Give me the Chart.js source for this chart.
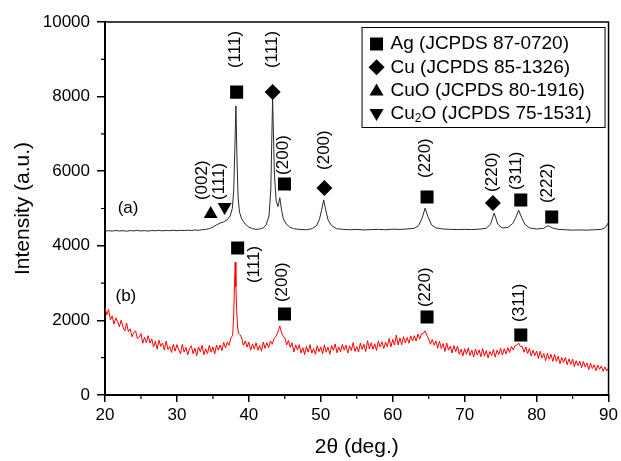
<!DOCTYPE html>
<html>
<head>
<meta charset="utf-8">
<script src="https://cdn.jsdelivr.net/npm/chart.js@4.4.0/dist/chart.umd.min.js"></script>
<style>
  html, body { margin: 0; padding: 0; background: #fff; }
</style>
</head>
<body>
<canvas id="xrd" width="621" height="461"></canvas>
<script>
// pattern (a): 2theta, intensity
const curveA = [
  [20,4390],[20.5,4405],[21,4395],[21.5,4410],[22,4398],[22.5,4405],[23,4392],[23.5,4408],
  [24,4400],[24.5,4412],[25,4398],[25.5,4406],[26,4395],[26.5,4410],[27,4402],[27.5,4415],
  [28,4400],[28.5,4412],[29,4405],[29.5,4418],[30,4404],[30.5,4415],[31,4408],[31.5,4420],
  [32,4410],[32.5,4425],[33,4415],[33.5,4430],[34,4440],[34.5,4460],[35,4500],[35.5,4560],
  [36,4610],[36.5,4640],[37,4700],[37.4,4800],[37.7,5000],[37.9,5500],[38.05,6600],[38.2,7750],
  [38.35,6300],[38.5,5300],[38.7,4900],[39,4720],[39.5,4580],[40,4500],[40.5,4460],[41,4440],
  [41.5,4450],[42,4480],[42.4,4560],[42.8,4800],[43.05,5500],[43.3,7950],[43.55,5900],[43.8,5200],
  [44.05,5050],[44.3,5290],[44.55,4950],[44.8,4720],[45.2,4580],[45.7,4500],[46.2,4460],[47,4440],
  [48,4430],[48.8,4460],[49.4,4540],[49.8,4700],[50.1,4950],[50.4,5230],[50.7,4950],[51,4700],
  [51.5,4540],[52.2,4460],[53,4440],[54,4430],[55,4440],[56,4425],[57,4435],[58,4440],
  [59,4430],[60,4445],[61,4440],[62,4450],[63,4470],[63.6,4540],[64.1,4750],[64.5,5010],
  [64.9,4780],[65.4,4560],[66,4480],[67,4450],[68,4440],[69,4435],[70,4440],[71,4435],
  [72,4445],[73,4470],[73.6,4580],[74.1,4880],[74.6,4580],[75.2,4480],[76,4490],[76.7,4600],
  [77.2,4800],[77.5,4960],[77.9,4760],[78.4,4570],[79,4480],[80,4450],[81,4470],[81.6,4540],
  [82.2,4480],[83,4440],[84,4430],[85,4420],[86,4425],[87,4420],[88,4430],[89,4440],
  [89.5,4480],[90,4620]
];

// pattern (b)
const curveB = [
  [20,2340],[20.25,2147],[20.5,2295],[20.75,2012],[21,2120],[21.25,1900],[21.5,2070],[21.75,1970],
  [22,1830],[22.25,2005],[22.5,1820],[22.75,1715],[23,1930],[23.25,1697],[23.5,1775],[23.75,1562],
  [24,1670],[24.25,1722],[24.5,1515],[24.75,1547],[25,1650],[25.25,1387],[25.5,1545],[25.75,1402],
  [26,1590],[26.25,1392],[26.5,1505],[26.75,1287],[27,1440],[27.25,1225],[27.5,1470],[27.75,1305],
  [28,1390],[28.25,1207],[28.5,1445],[28.75,1222],[29,1300],[29.25,1142],[29.5,1355],[29.75,1177],
  [30,1350],[30.25,1212],[30.5,1105],[30.75,1357],[31,1150],[31.25,1277],[31.5,1075],[31.75,1242],
  [32,1320],[32.25,1107],[32.5,1255],[32.75,1052],[33,1290],[33.25,1160],[33.5,1330],[33.75,1080],
  [34,1240],[34.25,1105],[34.5,1330],[34.75,1145],[35,1290],[35.25,1100],[35.5,1340],[35.75,1200],
  [36,1340],[36.25,1190],[36.5,1410],[36.75,1260],[37,1420],[37.25,1330],[37.5,1530],[37.75,1600],
  [37.9,2200],[38,2950],[38.1,3560],[38.2,2900],[38.3,2250],[38.45,1800],[38.6,1650],[38.75,1620],
  [39,1530],[39.25,1330],[39.5,1450],[39.75,1285],[40,1420],[40.25,1200],[40.5,1370],[40.75,1230],
  [41,1400],[41.25,1200],[41.5,1323],[41.75,1175],[42,1420],[42.25,1250],[42.5,1405],[42.75,1270],
  [43,1450],[43.25,1360],[43.5,1520],[43.75,1560],[44,1680],[44.15,1760],[44.3,1850],[44.45,1720],
  [44.6,1640],[44.8,1560],[45,1540],[45.25,1340],[45.5,1460],[45.75,1280],[46,1400],[46.25,1150],
  [46.5,1345],[46.75,1205],[47,1350],[47.25,1125],[47.5,1270],[47.75,1085],[48,1300],[48.25,1150],
  [48.5,1350],[48.75,1120],[49,1240],[49.25,1090],[49.5,1320],[49.75,1160],[50,1290],[50.25,1102],
  [50.5,1345],[50.75,1147],[51,1280],[51.25,1092],[51.5,1325],[51.75,1197],[52,1370],[52.25,1132],
  [52.5,1285],[52.75,1157],[53,1360],[53.25,1202],[53.5,1335],[53.75,1127],[54,1320],[54.25,1192],
  [54.5,1405],[54.75,1167],[55,1300],[55.25,1155],[55.5,1390],[55.75,1225],[56,1360],[56.25,1165],
  [56.5,1460],[56.75,1235],[57,1400],[57.25,1225],[57.5,1370],[57.75,1195],[58,1450],[58.25,1287],
  [58.5,1425],[58.75,1242],[59,1420],[59.25,1297],[59.5,1515],[59.75,1292],[60,1490],[60.25,1337],
  [60.5,1605],[60.75,1342],[61,1530],[61.25,1347],[61.5,1565],[61.75,1392],[62,1540],[62.25,1387],
  [62.5,1585],[62.75,1447],[63,1590],[63.25,1445],[63.5,1630],[63.75,1500],[64,1640],[64.25,1660],
  [64.5,1720],[64.75,1600],[65,1500],[65.25,1360],[65.5,1490],[65.75,1335],[66,1450],[66.25,1255],
  [66.5,1440],[66.75,1245],[67,1380],[67.25,1167],[67.5,1395],[67.75,1202],[68,1310],[68.25,1127],
  [68.5,1325],[68.75,1162],[69,1310],[69.25,1090],[69.5,1230],[69.75,1050],[70,1240],[70.25,1092],
  [70.5,1265],[70.75,1057],[71,1200],[71.25,1017],[71.5,1235],[71.75,1072],[72,1210],[72.25,1027],
  [72.5,1245],[72.75,1042],[73,1190],[73.25,992],[73.5,1165],[73.75,1057],[74,1220],[74.25,1015],
  [74.5,1200],[74.75,1085],[75,1250],[75.25,1070],[75.5,1240],[75.75,1100],[76,1270],[76.25,1140],
  [76.5,1300],[76.75,1205],[77,1320],[77.25,1340],[77.5,1390],[77.75,1300],[78,1300],[78.25,1147],
  [78.5,1285],[78.75,1112],[79,1250],[79.25,1045],[79.5,1200],[79.75,1055],[80,1180],[80.25,977],
  [80.5,1175],[80.75,992],[81,1110],[81.25,920],[81.5,1120],[81.75,960],[82,1090],[82.25,900],
  [82.5,1090],[82.75,900],[83,1040],[83.25,837],[83.5,1005],[83.75,872],[84,1010],[84.25,810],
  [84.5,970],[84.75,820],[85,960],[85.25,760],[85.5,920],[85.75,790],[86,910],[86.25,730],
  [86.5,900],[86.75,750],[87,860],[87.25,680],[87.5,850],[87.75,710],[88,810],[88.25,652],
  [88.5,805],[88.75,687],[89,780],[89.25,632],[89.5,755],[89.75,647],[90,720]
];

// phase markers (2theta, marker height) and their hkl
const agMarksA = [[38.3,8120],[44.95,5660],[64.77,5310],[77.8,5230],[82.1,4770]];
const agHklA = ['(111)','(200)','(220)','(311)','(222)'];
const cuMarksA = [[43.3,8120],[50.5,5550],[73.92,5150]];
const cuHklA = ['(111)','(200)','(220)'];
const cuoMarksA = [[34.69,4850]];
const cuoHklA = ['(002)'];
const cu2oMarksA = [[36.63,5040]];
const cu2oHklA = ['(111)'];
const agMarksB = [[38.44,3940],[44.95,2170],[64.77,2090],[77.8,1610]];
const agHklB = ['(111)','(200)','(220)','(311)'];

const legendItems = ['Ag (JCPDS 87-0720)', 'Cu (JCPDS 85-1326)', 'CuO (JCPDS 80-1916)', 'Cu2O (JCPDS 75-1531)'];

const FONT = 'Liberation Sans, Arial, Helvetica, sans-serif';

// pixel offsets of hkl text (centre x, bottom of rotated text) from its marker
const hklOffsets = {
  agA: [[-1,-24],[-1,-9],[-2,-19],[-4,-10],[-4,-14]],
  cuA: [[0,-24],[0,-18],[-1,-11]],
  cuoA: [[-8,-14]],
  cu2oA: [[-5,-7]],
  agB: [[17,35],[-2,-12],[-2,-10],[-1,-13]]
};

function marks(pts, style, radius, rotation) {
  return {
    type: 'scatter', data: pts, order: 0,
    pointStyle: style, pointRadius: radius, pointRotation: rotation || 0,
    pointBackgroundColor: '#000', pointBorderColor: '#000', pointBorderWidth: 0,
    pointHoverRadius: radius, showLine: false
  };
}

const decor = {
  id: 'decor',
  afterDatasetsDraw(chart) {
    const ctx = chart.ctx, xs = chart.scales.x, ys = chart.scales.y, a = chart.chartArea;
    ctx.save();
    // frame top / right
    ctx.strokeStyle = '#000';
    ctx.lineWidth = 1.5;
    ctx.beginPath();
    ctx.moveTo(a.left, a.top); ctx.lineTo(a.right, a.top); ctx.lineTo(a.right, a.bottom);
    ctx.stroke();
    // minor ticks
    ctx.lineWidth = 1.2;
    ctx.beginPath();
    for (let v = 25; v < 90; v += 10) {
      const px = xs.getPixelForValue(v);
      ctx.moveTo(px, a.bottom); ctx.lineTo(px, a.bottom + 4);
    }
    for (let v = 1000; v < 10000; v += 2000) {
      const py = ys.getPixelForValue(v);
      ctx.moveTo(a.left, py); ctx.lineTo(a.left - 4, py);
    }
    ctx.stroke();

    // hkl labels
    ctx.fillStyle = '#000';
    ctx.font = '17px ' + FONT;
    ctx.textAlign = 'left';
    ctx.textBaseline = 'middle';
    const groups = [
      [agMarksA, agHklA, hklOffsets.agA], [cuMarksA, cuHklA, hklOffsets.cuA],
      [cuoMarksA, cuoHklA, hklOffsets.cuoA], [cu2oMarksA, cu2oHklA, hklOffsets.cu2oA],
      [agMarksB, agHklB, hklOffsets.agB]
    ];
    groups.forEach(([pts, hkl, offs]) => {
      pts.forEach((p, i) => {
        const px = xs.getPixelForValue(p[0]) + offs[i][0];
        const py = ys.getPixelForValue(p[1]) + offs[i][1];
        ctx.save();
        ctx.translate(px, py);
        ctx.rotate(-Math.PI / 2);
        ctx.fillText(hkl[i], 0, 0);
        ctx.restore();
      });
    });

    // curve tags
    ctx.textAlign = 'center';
    ctx.fillText('(a)', xs.getPixelForValue(23.2), ys.getPixelForValue(5000));
    ctx.fillText('(b)', xs.getPixelForValue(22.9), ys.getPixelForValue(2650));

    // legend box
    const bx = a.right - 247, by = a.top + 5, bw = 243, bh = 100;
    ctx.lineWidth = 1;
    ctx.strokeRect(bx + 0.5, by + 0.5, bw, bh);
    const mx = bx + 15, tx = bx + 29;
    ctx.textAlign = 'left';
    ctx.font = '19px ' + FONT;
    legendItems.forEach((txt, i) => {
      const cy = by + 17 + i * 23.3;
      ctx.beginPath();
      if (i === 0) {
        ctx.rect(mx - 6.5, cy - 6.5, 13, 13);
      } else if (i === 1) {
        ctx.moveTo(mx, cy - 8); ctx.lineTo(mx + 8, cy); ctx.lineTo(mx, cy + 8); ctx.lineTo(mx - 8, cy);
      } else if (i === 2) {
        ctx.moveTo(mx, cy - 7); ctx.lineTo(mx + 7, cy + 5); ctx.lineTo(mx - 7, cy + 5);
      } else {
        ctx.moveTo(mx, cy + 7); ctx.lineTo(mx + 7, cy - 5); ctx.lineTo(mx - 7, cy - 5);
      }
      ctx.closePath();
      ctx.fill();
      if (txt.startsWith('Cu2O')) {
        let x = tx;
        ctx.fillText('Cu', x, cy); x += ctx.measureText('Cu').width;
        ctx.font = '12px ' + FONT;
        ctx.fillText('2', x, cy + 5); x += ctx.measureText('2').width;
        ctx.font = '19px ' + FONT;
        ctx.fillText(txt.slice(3), x, cy);
      } else {
        ctx.fillText(txt, tx, cy);
      }
    });
    ctx.restore();
  }
};

new Chart(document.getElementById('xrd'), {
  data: {
    datasets: [
      marks(agMarksA, 'rect', 9.2),
      marks(cuMarksA, 'rectRot', 8),
      marks(cuoMarksA, 'triangle', 8),
      marks(cu2oMarksA, 'triangle', 8, 180),
      marks(agMarksB, 'rect', 9.2),
      { type: 'line', data: curveA, order: 1, borderColor: '#2a2a2a', borderWidth: 1, pointRadius: 0, tension: 0 },
      { type: 'line', data: curveB, order: 1, borderColor: '#ff0000', borderWidth: 1, pointRadius: 0, tension: 0 }
    ]
  },
  options: {
    responsive: false,
    animation: false,
    layout: { padding: { left: 0, right: 11, top: 22, bottom: 0 } },
    plugins: { legend: { display: false }, tooltip: { enabled: false } },
    scales: {
      x: {
        type: 'linear', min: 20, max: 90,
        ticks: { stepSize: 10, color: '#000', font: { family: FONT, size: 17 }, padding: 3, maxRotation: 0,
                 callback: v => String(v) },
        grid: { drawOnChartArea: false, tickLength: 7, color: '#000', lineWidth: 1.5 },
        border: { color: '#000', width: 2 },
        title: { display: true, text: '2θ (deg.)', color: '#000', font: { family: FONT, size: 21 }, padding: { top: 0, bottom: 1 } },
        afterFit(s) { s.height = 66; }
      },
      y: {
        type: 'linear', min: 0, max: 10000,
        ticks: { stepSize: 2000, color: '#000', font: { family: FONT, size: 17 }, padding: 7,
                 callback: v => String(v) },
        grid: { drawOnChartArea: false, tickLength: 8, color: '#000', lineWidth: 1.5 },
        border: { color: '#000', width: 2 },
        title: { display: true, text: 'Intensity (a.u.)', color: '#000', font: { family: FONT, size: 21 }, padding: { top: 11, bottom: 0 } },
        afterFit(s) { s.width = 105; }
      }
    }
  },
  plugins: [decor]
});
</script>
</body>
</html>
